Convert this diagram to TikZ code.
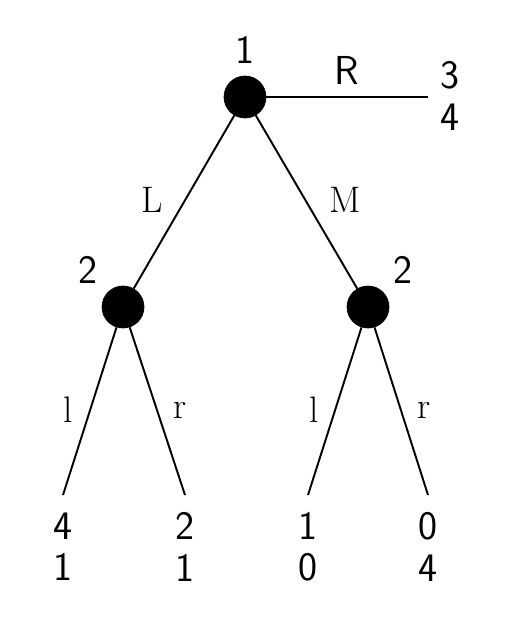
\documentclass[tikz,border=0pt]{standalone}
\usepackage{tikz}
\usetikzlibrary{positioning}

\begin{document}
\begin{tikzpicture}[
    decision/.style={circle, fill=black, draw=black, minimum size=8.4mm, inner sep=0pt},
    player/.style={font=\sffamily\fontsize{23}{25}\selectfont, inner sep=1pt},
    move/.style={font=\fontsize{21}{23}\selectfont, inner sep=1pt},
    payoff/.style={font=\sffamily\fontsize{23}{23.5}\selectfont, align=center, inner sep=0pt},
    branch/.style={line width=1.1pt}
  ]
    \useasboundingbox (0,0) rectangle (10.18,-12.36);

    \node[decision] (root) at (4.9,-1.94) {};
    \node[decision] (left) at (2.46,-6.14) {};
    \node[decision] (right) at (7.36,-6.14) {};

    \coordinate (rend) at (8.56,-1.94);
    \coordinate (ll) at (1.26,-9.9);
    \coordinate (lr) at (3.7,-9.9);
    \coordinate (rl) at (6.16,-9.9);
    \coordinate (rr) at (8.56,-9.9);

    \draw[branch] (root) -- (rend);
    \draw[branch] (root) -- (left);
    \draw[branch] (root) -- (right);
    \draw[branch] (left) -- (ll);
    \draw[branch] (left) -- (lr);
    \draw[branch] (right) -- (rl);
    \draw[branch] (right) -- (rr);

    % players
    \node[player] (p1) at (4.9,-1.0) {1};
    \node[player] (p2a) at (1.76,-5.4) {2};
    \node[player] (p2b) at (8.06,-5.4) {2};

    % moves
    \node[player] (mR) at (6.94,-1.4) {R};
    \node[move] (mL) at (3.04,-4.0) {L};
    \node[move] (mM) at (6.9,-4.0) {M};
    \node[move] (mll) at (1.36,-8.2) {l};
    \node[move] (mlr) at (3.6,-8.2) {r};
    \node[move] (mrl) at (6.28,-8.2) {l};
    \node[move] (mrr) at (8.48,-8.2) {r};

    % payoffs
    \node[payoff] (uR) at (9.0,-1.92) {3\\4};
    \node[payoff] (ull) at (1.26,-10.94) {4\\1};
    \node[payoff] (ulr) at (3.7,-10.94) {2\\1};
    \node[payoff] (url) at (6.16,-10.94) {1\\0};
    \node[payoff] (urr) at (8.56,-10.94) {0\\4};
  \end{tikzpicture}
\end{document}
